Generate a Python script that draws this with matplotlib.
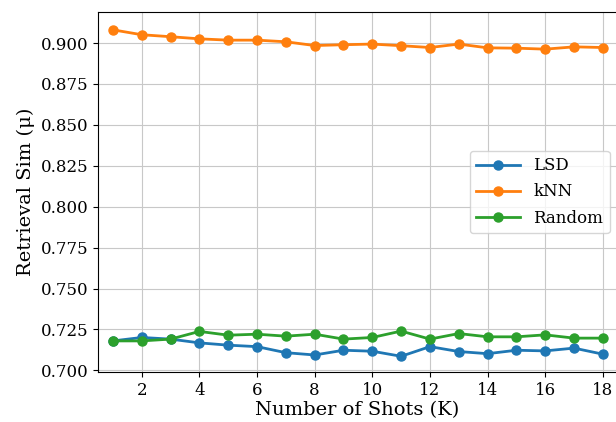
import matplotlib
matplotlib.use("Agg")
import matplotlib.pyplot as plt

shots = list(range(1, 19))
lsd = [0.7180, 0.7201, 0.7191, 0.7168, 0.7154, 0.7145, 0.7108, 0.7094, 0.7123,
       0.7117, 0.7086, 0.7145, 0.7115, 0.7102, 0.7123, 0.7119, 0.7136, 0.7099]
knn = [0.9081, 0.9051, 0.9039, 0.9026, 0.9018, 0.9018, 0.9008, 0.8985, 0.8990,
       0.8994, 0.8984, 0.8973, 0.8994, 0.8971, 0.8969, 0.8963, 0.8977, 0.8973]
rnd = [0.7180, 0.7180, 0.7191, 0.7238, 0.7215, 0.7221, 0.7209, 0.7221, 0.7191,
       0.7201, 0.7240, 0.7191, 0.7225, 0.7205, 0.7205, 0.7217, 0.7197, 0.7197]
yticks = [0.700, 0.725, 0.750, 0.775, 0.800, 0.825, 0.850, 0.875, 0.900]
xticks = [2, 4, 6, 8, 10, 12, 14, 16, 18]

plt.rcParams['font.family'] = ['DejaVu Serif']
plt.rcParams['font.size'] = 12

fig = plt.figure(figsize=(6.16, 4.22), dpi=100)
ax = fig.add_axes([98/616, 50/422, (616-98)/616 + 0.002, 360/422])

for vals, lab, col in [(lsd, 'LSD', '#1f77b4'), (knn, 'kNN', '#ff7f0e'), (rnd, 'Random', '#2ca02c')]:
    ax.plot(shots, vals, marker='o', markersize=6.5, linewidth=2, color=col, label=lab)

ax.set_xlim(0.48, 18.5)
ax.set_ylim(0.699, 0.919)
ax.set_xticks(xticks)
ax.set_yticks(yticks)
ax.set_yticklabels([f"{v:.3f}" for v in yticks])
ax.tick_params(labelsize=12)
ax.grid(True, color='#c8c8c8', linewidth=0.8)
ax.set_axisbelow(True)
ax.set_xlabel('Number of Shots (K)', fontsize=14, labelpad=2)
ax.set_ylabel('Retrieval Sim (μ)', fontsize=14)
ax.legend(loc='center right', bbox_to_anchor=(0.995, 0.5), fontsize=12,
          handlelength=2.6, labelspacing=0.55, borderaxespad=0.3)

fig.savefig('out.png', dpi=100)
